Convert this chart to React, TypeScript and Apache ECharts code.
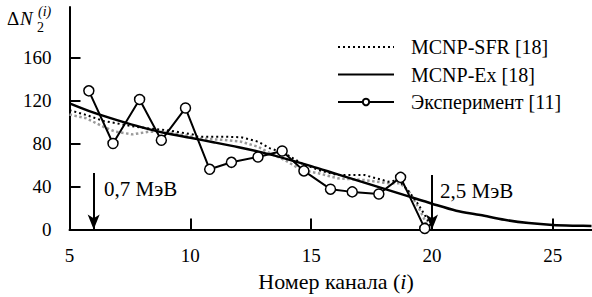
import React, { useEffect, useRef } from 'react';
import * as echarts from 'echarts';

const xTicks = [5, 10, 15, 20, 25];
const yTicks = [0, 40, 80, 120, 160];

const expX = [5.8, 6.8, 7.9, 8.8, 9.8, 10.8, 11.7, 12.8, 13.8, 14.7, 15.8, 16.7, 17.8, 18.7, 19.7];
const expY = [129, 80, 121, 83, 113, 56, 62.5, 67.5, 73, 54.5, 37.5, 35, 33, 48.5, 1];

const exX = [5, 6, 7, 8, 9, 10, 11, 12, 13, 14, 15, 16, 17, 18, 19, 20, 21, 22, 23, 24, 25, 26, 26.6];
const exY = [117.4, 108.7, 101.5, 95, 89.5, 85.3, 81, 76.5, 71.5, 65.5, 59, 52, 45, 38, 31, 24, 17.5, 13.5, 9, 6, 4.2, 3.5, 3.3];

const sfrX = [5, 5.7, 6.4, 6.9, 7.6, 8.3, 9, 10.1, 10.3, 11.4, 12.1, 12.8, 13.3, 13.9, 14.6, 15.3, 16.1, 17.2, 18.2, 18.6, 19, 19.4, 19.7, 20];
const sfrY = [111, 106.5, 101, 99, 96, 94, 92.5, 88.5, 86.3, 86.3, 85.8, 81.7, 75.5, 71, 61.6, 55.3, 50.7, 50.7, 44.5, 46, 36.7, 24.4, 13.5, 1];

const sfr2X = [5, 5.7, 6.4, 6.9, 7.6, 8.3, 9, 10.1, 10.3, 11.4, 12.1, 12.8, 13.3, 13.9, 14.6, 15.3, 16.1, 17.2, 18.2, 18.7, 19.1, 19.5, 19.8];
const sfr2Y = [107, 103.4, 95.6, 91, 88.5, 91, 91, 86.3, 84.8, 83.3, 81.7, 77, 70.9, 64.7, 55.3, 52.3, 47.6, 46, 43, 43, 33.7, 18.1, 4.2];

const arrowX = [6, 20];
const arrowTop = [52.5, 50.7];
const arrowLabels = ['0,7 МэВ', '2,5 МэВ'];

const seriesNames = ['MCNP-SFR [18]', 'MCNP-Ex [18]', 'Эксперимент [11]'];

const FONT = 'Liberation Serif';

function zip(xs: number[], ys: number[]) {
  return xs.map((x, i) => [x, ys[i]]);
}

export default function App() {
  const ref = useRef<HTMLDivElement>(null);
  useEffect(() => {
    document.body.style.margin = '0';
    const chart = echarts.init(ref.current!, null, { renderer: 'svg' });
    chart.setOption({
      animation: false,
      backgroundColor: '#fff',
      grid: { left: 69.5, right: 0.5, top: 7, bottom: 67.5, containLabel: false },
      legend: {
        data: [
          { name: seriesNames[0], itemStyle: { opacity: 0 } },
          { name: seriesNames[1], itemStyle: { opacity: 0 } },
          { name: seriesNames[2] },
        ],
        orient: 'vertical',
        left: 332,
        top: 32,
        itemWidth: 56,
        itemHeight: 8,
        itemGap: 7.5,
        selectedMode: false,
        textStyle: { fontFamily: FONT, fontSize: 20, color: '#000', lineHeight: 20, padding: [0, 0, 0, 12] },
      },
      xAxis: {
        type: 'value',
        min: 5,
        max: 26.6,
        axisLine: { lineStyle: { color: '#000', width: 2 } },
        axisTick: { inside: true, length: 11, customValues: xTicks, lineStyle: { color: '#000', width: 2 } },
        axisLabel: { customValues: xTicks, fontFamily: FONT, fontSize: 19, color: '#000', margin: 16 },
        splitLine: { show: false },
      },
      yAxis: {
        type: 'value',
        min: 0,
        max: 207,
        axisLine: { show: true, lineStyle: { color: '#000', width: 2 } },
        axisTick: { show: true, inside: true, length: 11, customValues: yTicks, lineStyle: { color: '#000', width: 2 } },
        axisLabel: { customValues: yTicks, fontFamily: FONT, fontSize: 19, color: '#000', margin: 18 },
        splitLine: { show: false },
      },
      graphic: [
        { type: 'text', left: 7, top: 9, style: { text: 'Δ', fontFamily: FONT, fontSize: 19, fill: '#000' } },
        { type: 'text', left: 20, top: 9, style: { text: 'N', fontFamily: FONT, fontSize: 19, fontStyle: 'italic', fill: '#000' } },
        { type: 'text', left: 37, top: 20, style: { text: '2', fontFamily: FONT, fontSize: 14, fill: '#000' } },
        { type: 'text', left: 38, top: 4, style: { text: '(i)', fontFamily: FONT, fontSize: 14, fontStyle: 'italic', fill: '#000' } },
        { type: 'text', left: 104, top: 178, style: { text: arrowLabels[0], fontFamily: FONT, fontSize: 21, fill: '#000' } },
        { type: 'text', left: 440, top: 180, style: { text: arrowLabels[1], fontFamily: FONT, fontSize: 21, fill: '#000' } },
        {
          type: 'text',
          x: 336,
          y: 281,
          style: {
            text: '{a|Номер канала (}{i|i}{a|)}',
            align: 'center',
            verticalAlign: 'middle',
            rich: {
              a: { fontFamily: FONT, fontSize: 22, fill: '#000' },
              i: { fontFamily: FONT, fontSize: 22, fontStyle: 'italic', fill: '#000' },
            },
          },
        },
      ],
      series: [
        {
          name: 'sfr-gray',
          type: 'line',
          data: zip(sfr2X, sfr2Y),
          symbol: 'none',
          lineStyle: { color: '#9a9a9a', width: 2.5, type: [2.5, 2.5] },
          z: 2,
        },
        {
          name: seriesNames[0],
          type: 'line',
          data: zip(sfrX, sfrY),
          symbol: 'none',
          color: '#000',
          lineStyle: { color: '#000', width: 2, type: [2, 3] },
          z: 3,
        },
        {
          name: seriesNames[1],
          type: 'line',
          data: zip(exX, exY),
          symbol: 'none',
          smooth: 0.3,
          color: '#000',
          lineStyle: { color: '#000', width: 2.5 },
          z: 4,
          markLine: {
            silent: true,
            symbol: ['none', 'arrow'],
            symbolSize: [9, 15],
            label: { show: false },
            lineStyle: { color: '#000', width: 2, type: 'solid' },
            data: arrowX.map((x, i) => [
              { coord: [x, arrowTop[i]] },
              { coord: [x, 0] },
            ]),
          },
        },
        {
          name: seriesNames[2],
          type: 'line',
          data: zip(expX, expY),
          symbol: 'circle',
          symbolSize: 10,
          color: '#000',
          itemStyle: { color: '#fff', borderColor: '#000', borderWidth: 1.5 },
          lineStyle: { color: '#000', width: 2 },
          z: 5,
        },
      ],
    });
    return () => chart.dispose();
  }, []);
  return <div ref={ref} style={{ width: 592, height: 297 }} />;
}
